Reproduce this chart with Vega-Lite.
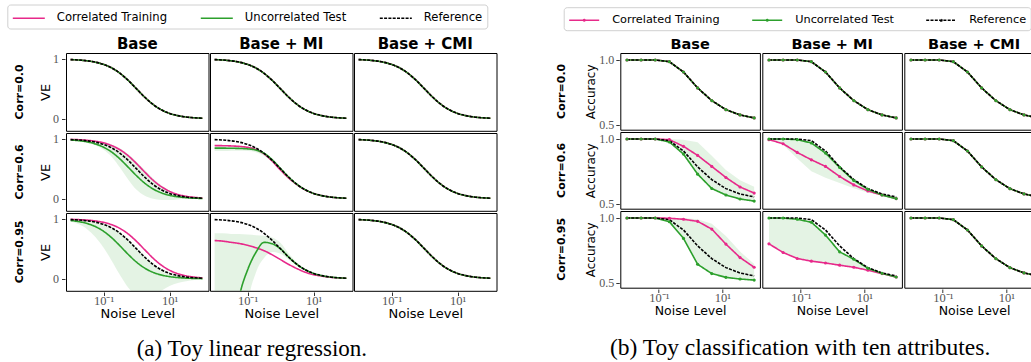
{
"$schema": "https://vega.github.io/schema/vega-lite/v6.json",
"padding": {"left": 6, "top": 4, "right": 0, "bottom": 0},
"spacing": 58.3,
"config": {
  "font": "DejaVu Sans",
  "view": {"stroke": "#000000", "strokeWidth": 1},
  "facet": {"spacing": 0},
  "axis": {"grid": false, "domain": false, "labelFont": "Liberation Serif", "labelFontSize": 12.5, "labelColor": "#555555", "titleFont": "DejaVu Sans", "titleFontSize": 13, "titleFontWeight": "normal", "titleColor": "#000000", "tickColor": "#000000", "tickSize": 3.5, "tickWidth": 0.8, "labelPadding": -1, "titlePadding": 0.5},
  "axisY": {"titlePadding": 0, "labelPadding": 3, "labelFontSize": 12},
  "header": {"labelFont": "DejaVu Sans", "labelFontWeight": "bold", "labelColor": "#000000"},
  "title": {"font": "Liberation Serif", "fontWeight": "normal", "color": "#000000"}
},
"resolve": {"scale": {"color": "independent", "strokeDash": "independent", "strokeWidth": "independent", "x": "independent", "y": "independent"}, "legend": {"color": "independent", "strokeDash": "independent"}},
"hconcat": [
{
  "data": {"values": [
{"c":"Corr=0.0","m":"Base","x":0.01,"tr":0.99,"te":0.99,"rf":0.99},
{"c":"Corr=0.0","m":"Base","x":0.01778,"tr":0.9825,"te":0.9825,"rf":0.9825},
{"c":"Corr=0.0","m":"Base","x":0.03162,"tr":0.9693,"te":0.9693,"rf":0.9693},
{"c":"Corr=0.0","m":"Base","x":0.05623,"tr":0.9468,"te":0.9468,"rf":0.9468},
{"c":"Corr=0.0","m":"Base","x":0.1,"tr":0.9091,"te":0.9091,"rf":0.9091},
{"c":"Corr=0.0","m":"Base","x":0.1778,"tr":0.849,"te":0.849,"rf":0.849},
{"c":"Corr=0.0","m":"Base","x":0.3162,"tr":0.7598,"te":0.7598,"rf":0.7598},
{"c":"Corr=0.0","m":"Base","x":0.5623,"tr":0.64,"te":0.64,"rf":0.64},
{"c":"Corr=0.0","m":"Base","x":1,"tr":0.5,"te":0.5,"rf":0.5},
{"c":"Corr=0.0","m":"Base","x":1.778,"tr":0.36,"te":0.36,"rf":0.36},
{"c":"Corr=0.0","m":"Base","x":3.162,"tr":0.2403,"te":0.2403,"rf":0.2403},
{"c":"Corr=0.0","m":"Base","x":5.623,"tr":0.151,"te":0.151,"rf":0.151},
{"c":"Corr=0.0","m":"Base","x":10,"tr":0.0909,"te":0.0909,"rf":0.0909},
{"c":"Corr=0.0","m":"Base","x":17.78,"tr":0.0532,"te":0.0532,"rf":0.0532},
{"c":"Corr=0.0","m":"Base","x":31.62,"tr":0.0307,"te":0.0307,"rf":0.0307},
{"c":"Corr=0.0","m":"Base","x":56.23,"tr":0.0175,"te":0.0175,"rf":0.0175},
{"c":"Corr=0.0","m":"Base","x":100,"tr":0.0099,"te":0.0099,"rf":0.0099},
{"c":"Corr=0.0","m":"Base + MI","x":0.01,"tr":0.99,"te":0.99,"rf":0.99},
{"c":"Corr=0.0","m":"Base + MI","x":0.01778,"tr":0.9825,"te":0.9825,"rf":0.9825},
{"c":"Corr=0.0","m":"Base + MI","x":0.03162,"tr":0.9693,"te":0.9693,"rf":0.9693},
{"c":"Corr=0.0","m":"Base + MI","x":0.05623,"tr":0.9468,"te":0.9468,"rf":0.9468},
{"c":"Corr=0.0","m":"Base + MI","x":0.1,"tr":0.9091,"te":0.9091,"rf":0.9091},
{"c":"Corr=0.0","m":"Base + MI","x":0.1778,"tr":0.849,"te":0.849,"rf":0.849},
{"c":"Corr=0.0","m":"Base + MI","x":0.3162,"tr":0.7598,"te":0.7598,"rf":0.7598},
{"c":"Corr=0.0","m":"Base + MI","x":0.5623,"tr":0.64,"te":0.64,"rf":0.64},
{"c":"Corr=0.0","m":"Base + MI","x":1,"tr":0.5,"te":0.5,"rf":0.5},
{"c":"Corr=0.0","m":"Base + MI","x":1.778,"tr":0.36,"te":0.36,"rf":0.36},
{"c":"Corr=0.0","m":"Base + MI","x":3.162,"tr":0.2403,"te":0.2403,"rf":0.2403},
{"c":"Corr=0.0","m":"Base + MI","x":5.623,"tr":0.151,"te":0.151,"rf":0.151},
{"c":"Corr=0.0","m":"Base + MI","x":10,"tr":0.0909,"te":0.0909,"rf":0.0909},
{"c":"Corr=0.0","m":"Base + MI","x":17.78,"tr":0.0532,"te":0.0532,"rf":0.0532},
{"c":"Corr=0.0","m":"Base + MI","x":31.62,"tr":0.0307,"te":0.0307,"rf":0.0307},
{"c":"Corr=0.0","m":"Base + MI","x":56.23,"tr":0.0175,"te":0.0175,"rf":0.0175},
{"c":"Corr=0.0","m":"Base + MI","x":100,"tr":0.0099,"te":0.0099,"rf":0.0099},
{"c":"Corr=0.0","m":"Base + CMI","x":0.01,"tr":0.99,"te":0.99,"rf":0.99},
{"c":"Corr=0.0","m":"Base + CMI","x":0.01778,"tr":0.9825,"te":0.9825,"rf":0.9825},
{"c":"Corr=0.0","m":"Base + CMI","x":0.03162,"tr":0.9693,"te":0.9693,"rf":0.9693},
{"c":"Corr=0.0","m":"Base + CMI","x":0.05623,"tr":0.9468,"te":0.9468,"rf":0.9468},
{"c":"Corr=0.0","m":"Base + CMI","x":0.1,"tr":0.9091,"te":0.9091,"rf":0.9091},
{"c":"Corr=0.0","m":"Base + CMI","x":0.1778,"tr":0.849,"te":0.849,"rf":0.849},
{"c":"Corr=0.0","m":"Base + CMI","x":0.3162,"tr":0.7598,"te":0.7598,"rf":0.7598},
{"c":"Corr=0.0","m":"Base + CMI","x":0.5623,"tr":0.64,"te":0.64,"rf":0.64},
{"c":"Corr=0.0","m":"Base + CMI","x":1,"tr":0.5,"te":0.5,"rf":0.5},
{"c":"Corr=0.0","m":"Base + CMI","x":1.778,"tr":0.36,"te":0.36,"rf":0.36},
{"c":"Corr=0.0","m":"Base + CMI","x":3.162,"tr":0.2403,"te":0.2403,"rf":0.2403},
{"c":"Corr=0.0","m":"Base + CMI","x":5.623,"tr":0.151,"te":0.151,"rf":0.151},
{"c":"Corr=0.0","m":"Base + CMI","x":10,"tr":0.0909,"te":0.0909,"rf":0.0909},
{"c":"Corr=0.0","m":"Base + CMI","x":17.78,"tr":0.0532,"te":0.0532,"rf":0.0532},
{"c":"Corr=0.0","m":"Base + CMI","x":31.62,"tr":0.0307,"te":0.0307,"rf":0.0307},
{"c":"Corr=0.0","m":"Base + CMI","x":56.23,"tr":0.0175,"te":0.0175,"rf":0.0175},
{"c":"Corr=0.0","m":"Base + CMI","x":100,"tr":0.0099,"te":0.0099,"rf":0.0099},
{"c":"Corr=0.6","m":"Base","x":0.01,"tr":0.993,"te":0.984,"rf":0.99,"lo":0.98,"hi":0.995},
{"c":"Corr=0.6","m":"Base","x":0.01778,"tr":0.988,"te":0.972,"rf":0.9825,"lo":0.965,"hi":0.99},
{"c":"Corr=0.6","m":"Base","x":0.03162,"tr":0.978,"te":0.952,"rf":0.9693,"lo":0.94,"hi":0.982},
{"c":"Corr=0.6","m":"Base","x":0.05623,"tr":0.962,"te":0.917,"rf":0.9468,"lo":0.895,"hi":0.968},
{"c":"Corr=0.6","m":"Base","x":0.1,"tr":0.935,"te":0.862,"rf":0.9091,"lo":0.82,"hi":0.945},
{"c":"Corr=0.6","m":"Base","x":0.1778,"tr":0.889,"te":0.779,"rf":0.849,"lo":0.7,"hi":0.905},
{"c":"Corr=0.6","m":"Base","x":0.3162,"tr":0.819,"te":0.664,"rf":0.7598,"lo":0.52,"hi":0.84},
{"c":"Corr=0.6","m":"Base","x":0.5623,"tr":0.718,"te":0.526,"rf":0.64,"lo":0.32,"hi":0.745},
{"c":"Corr=0.6","m":"Base","x":1,"tr":0.588,"te":0.385,"rf":0.5,"lo":0.15,"hi":0.62},
{"c":"Corr=0.6","m":"Base","x":1.778,"tr":0.446,"te":0.26,"rf":0.36,"lo":0.05,"hi":0.48},
{"c":"Corr=0.6","m":"Base","x":3.162,"tr":0.311,"te":0.165,"rf":0.2403,"lo":0.0,"hi":0.34},
{"c":"Corr=0.6","m":"Base","x":5.623,"tr":0.203,"te":0.1,"rf":0.151,"lo":-0.02,"hi":0.225},
{"c":"Corr=0.6","m":"Base","x":10,"tr":0.125,"te":0.0588,"rf":0.0909,"lo":-0.02,"hi":0.14},
{"c":"Corr=0.6","m":"Base","x":17.78,"tr":0.074,"te":0.034,"rf":0.0532,"lo":-0.01,"hi":0.082},
{"c":"Corr=0.6","m":"Base","x":31.62,"tr":0.043,"te":0.0194,"rf":0.0307,"lo":0.0,"hi":0.047},
{"c":"Corr=0.6","m":"Base","x":56.23,"tr":0.025,"te":0.011,"rf":0.0175,"lo":0.003,"hi":0.027},
{"c":"Corr=0.6","m":"Base","x":100,"tr":0.014,"te":0.0062,"rf":0.0099,"lo":0.003,"hi":0.015},
{"c":"Corr=0.6","m":"Base + MI","x":0.01,"tr":0.89,"te":0.848,"rf":0.99,"lo":0.8,"hi":0.875},
{"c":"Corr=0.6","m":"Base + MI","x":0.01778,"tr":0.888,"te":0.847,"rf":0.9825,"lo":0.8,"hi":0.875},
{"c":"Corr=0.6","m":"Base + MI","x":0.03162,"tr":0.884,"te":0.845,"rf":0.9693,"lo":0.805,"hi":0.875},
{"c":"Corr=0.6","m":"Base + MI","x":0.05623,"tr":0.876,"te":0.842,"rf":0.9468,"lo":0.805,"hi":0.875},
{"c":"Corr=0.6","m":"Base + MI","x":0.1,"tr":0.86,"te":0.835,"rf":0.9091,"lo":0.8,"hi":0.87},
{"c":"Corr=0.6","m":"Base + MI","x":0.1778,"tr":0.825,"te":0.815,"rf":0.849,"lo":0.78,"hi":0.845},
{"c":"Corr=0.6","m":"Base + MI","x":0.3162,"tr":0.75,"te":0.76,"rf":0.7598,"lo":0.72,"hi":0.78},
{"c":"Corr=0.6","m":"Base + MI","x":0.5623,"tr":0.628,"te":0.65,"rf":0.64,"lo":0.61,"hi":0.67},
{"c":"Corr=0.6","m":"Base + MI","x":1,"tr":0.48,"te":0.505,"rf":0.5,"lo":0.47,"hi":0.525},
{"c":"Corr=0.6","m":"Base + MI","x":1.778,"tr":0.345,"te":0.36,"rf":0.36,"lo":0.34,"hi":0.375},
{"c":"Corr=0.6","m":"Base + MI","x":3.162,"tr":0.235,"te":0.24,"rf":0.2403,"lo":0.232,"hi":0.25},
{"c":"Corr=0.6","m":"Base + MI","x":5.623,"tr":0.148,"te":0.151,"rf":0.151,"lo":0.147,"hi":0.155},
{"c":"Corr=0.6","m":"Base + MI","x":10,"tr":0.09,"te":0.091,"rf":0.0909,"lo":0.09,"hi":0.092},
{"c":"Corr=0.6","m":"Base + MI","x":17.78,"tr":0.053,"te":0.053,"rf":0.0532,"lo":0.053,"hi":0.054},
{"c":"Corr=0.6","m":"Base + MI","x":31.62,"tr":0.0307,"te":0.0307,"rf":0.0307,"lo":0.0307,"hi":0.031},
{"c":"Corr=0.6","m":"Base + MI","x":56.23,"tr":0.0175,"te":0.0175,"rf":0.0175,"lo":0.0175,"hi":0.0175},
{"c":"Corr=0.6","m":"Base + MI","x":100,"tr":0.0099,"te":0.0099,"rf":0.0099,"lo":0.0099,"hi":0.0099},
{"c":"Corr=0.6","m":"Base + CMI","x":0.01,"tr":0.99,"te":0.99,"rf":0.99},
{"c":"Corr=0.6","m":"Base + CMI","x":0.01778,"tr":0.9825,"te":0.9825,"rf":0.9825},
{"c":"Corr=0.6","m":"Base + CMI","x":0.03162,"tr":0.9693,"te":0.9693,"rf":0.9693},
{"c":"Corr=0.6","m":"Base + CMI","x":0.05623,"tr":0.9468,"te":0.9468,"rf":0.9468},
{"c":"Corr=0.6","m":"Base + CMI","x":0.1,"tr":0.9091,"te":0.9091,"rf":0.9091},
{"c":"Corr=0.6","m":"Base + CMI","x":0.1778,"tr":0.849,"te":0.849,"rf":0.849},
{"c":"Corr=0.6","m":"Base + CMI","x":0.3162,"tr":0.7598,"te":0.7598,"rf":0.7598},
{"c":"Corr=0.6","m":"Base + CMI","x":0.5623,"tr":0.64,"te":0.64,"rf":0.64},
{"c":"Corr=0.6","m":"Base + CMI","x":1,"tr":0.5,"te":0.5,"rf":0.5},
{"c":"Corr=0.6","m":"Base + CMI","x":1.778,"tr":0.36,"te":0.36,"rf":0.36},
{"c":"Corr=0.6","m":"Base + CMI","x":3.162,"tr":0.2403,"te":0.2403,"rf":0.2403},
{"c":"Corr=0.6","m":"Base + CMI","x":5.623,"tr":0.151,"te":0.151,"rf":0.151},
{"c":"Corr=0.6","m":"Base + CMI","x":10,"tr":0.0909,"te":0.0909,"rf":0.0909},
{"c":"Corr=0.6","m":"Base + CMI","x":17.78,"tr":0.0532,"te":0.0532,"rf":0.0532},
{"c":"Corr=0.6","m":"Base + CMI","x":31.62,"tr":0.0307,"te":0.0307,"rf":0.0307},
{"c":"Corr=0.6","m":"Base + CMI","x":56.23,"tr":0.0175,"te":0.0175,"rf":0.0175},
{"c":"Corr=0.6","m":"Base + CMI","x":100,"tr":0.0099,"te":0.0099,"rf":0.0099},
{"c":"Corr=0.95","m":"Base","x":0.01,"tr":0.994,"te":0.975,"rf":0.99,"lo":0.96,"hi":0.99},
{"c":"Corr=0.95","m":"Base","x":0.01778,"tr":0.989,"te":0.956,"rf":0.9825,"lo":0.91,"hi":0.985},
{"c":"Corr=0.95","m":"Base","x":0.03162,"tr":0.981,"te":0.924,"rf":0.9693,"lo":0.83,"hi":0.975},
{"c":"Corr=0.95","m":"Base","x":0.05623,"tr":0.967,"te":0.873,"rf":0.9468,"lo":0.7,"hi":0.955},
{"c":"Corr=0.95","m":"Base","x":0.1,"tr":0.943,"te":0.794,"rf":0.9091,"lo":0.52,"hi":0.92},
{"c":"Corr=0.95","m":"Base","x":0.1778,"tr":0.904,"te":0.684,"rf":0.849,"lo":0.3,"hi":0.86},
{"c":"Corr=0.95","m":"Base","x":0.3162,"tr":0.841,"te":0.549,"rf":0.7598,"lo":0.06,"hi":0.77},
{"c":"Corr=0.95","m":"Base","x":0.5623,"tr":0.748,"te":0.406,"rf":0.64,"lo":-0.15,"hi":0.65},
{"c":"Corr=0.95","m":"Base","x":1,"tr":0.625,"te":0.278,"rf":0.5,"lo":-0.3,"hi":0.51},
{"c":"Corr=0.95","m":"Base","x":1.778,"tr":0.484,"te":0.178,"rf":0.36,"lo":-0.35,"hi":0.37},
{"c":"Corr=0.95","m":"Base","x":3.162,"tr":0.345,"te":0.108,"rf":0.2403,"lo":-0.3,"hi":0.25},
{"c":"Corr=0.95","m":"Base","x":5.623,"tr":0.229,"te":0.064,"rf":0.151,"lo":-0.2,"hi":0.16},
{"c":"Corr=0.95","m":"Base","x":10,"tr":0.143,"te":0.037,"rf":0.0909,"lo":-0.12,"hi":0.095},
{"c":"Corr=0.95","m":"Base","x":17.78,"tr":0.086,"te":0.021,"rf":0.0532,"lo":-0.07,"hi":0.055},
{"c":"Corr=0.95","m":"Base","x":31.62,"tr":0.05,"te":0.012,"rf":0.0307,"lo":-0.04,"hi":0.032},
{"c":"Corr=0.95","m":"Base","x":56.23,"tr":0.029,"te":0.0068,"rf":0.0175,"lo":-0.02,"hi":0.018},
{"c":"Corr=0.95","m":"Base","x":100,"tr":0.0164,"te":0.0038,"rf":0.0099,"lo":-0.01,"hi":0.01},
{"c":"Corr=0.95","m":"Base + MI","x":0.01,"tr":0.64,"te":-4,"rf":0.99,"lo":-10,"hi":0.76},
{"c":"Corr=0.95","m":"Base + MI","x":0.01778,"tr":0.63,"te":-2.5,"rf":0.9825,"lo":-8,"hi":0.76},
{"c":"Corr=0.95","m":"Base + MI","x":0.03162,"tr":0.61,"te":-1.2,"rf":0.9693,"lo":-6,"hi":0.75},
{"c":"Corr=0.95","m":"Base + MI","x":0.05623,"tr":0.59,"te":-0.3,"rf":0.9468,"lo":-4,"hi":0.75},
{"c":"Corr=0.95","m":"Base + MI","x":0.1,"tr":0.56,"te":0.15,"rf":0.9091,"lo":-0.5,"hi":0.74},
{"c":"Corr=0.95","m":"Base + MI","x":0.1778,"tr":0.52,"te":0.44,"rf":0.849,"lo":0.1,"hi":0.73},
{"c":"Corr=0.95","m":"Base + MI","x":0.3162,"tr":0.47,"te":0.61,"rf":0.7598,"lo":0.35,"hi":0.72},
{"c":"Corr=0.95","m":"Base + MI","x":0.5623,"tr":0.4,"te":0.585,"rf":0.64,"lo":0.45,"hi":0.69},
{"c":"Corr=0.95","m":"Base + MI","x":1,"tr":0.32,"te":0.5,"rf":0.5,"lo":0.42,"hi":0.6},
{"c":"Corr=0.95","m":"Base + MI","x":1.778,"tr":0.24,"te":0.36,"rf":0.36,"lo":0.32,"hi":0.42},
{"c":"Corr=0.95","m":"Base + MI","x":3.162,"tr":0.17,"te":0.24,"rf":0.2403,"lo":0.22,"hi":0.27},
{"c":"Corr=0.95","m":"Base + MI","x":5.623,"tr":0.11,"te":0.151,"rf":0.151,"lo":0.14,"hi":0.16},
{"c":"Corr=0.95","m":"Base + MI","x":10,"tr":0.07,"te":0.0909,"rf":0.0909,"lo":0.085,"hi":0.095},
{"c":"Corr=0.95","m":"Base + MI","x":17.78,"tr":0.045,"te":0.0532,"rf":0.0532,"lo":0.05,"hi":0.055},
{"c":"Corr=0.95","m":"Base + MI","x":31.62,"tr":0.027,"te":0.0307,"rf":0.0307,"lo":0.03,"hi":0.032},
{"c":"Corr=0.95","m":"Base + MI","x":56.23,"tr":0.016,"te":0.0175,"rf":0.0175,"lo":0.017,"hi":0.018},
{"c":"Corr=0.95","m":"Base + MI","x":100,"tr":0.009,"te":0.0099,"rf":0.0099,"lo":0.009,"hi":0.01},
{"c":"Corr=0.95","m":"Base + CMI","x":0.01,"tr":0.99,"te":0.99,"rf":0.99},
{"c":"Corr=0.95","m":"Base + CMI","x":0.01778,"tr":0.9825,"te":0.9825,"rf":0.9825},
{"c":"Corr=0.95","m":"Base + CMI","x":0.03162,"tr":0.9693,"te":0.9693,"rf":0.9693},
{"c":"Corr=0.95","m":"Base + CMI","x":0.05623,"tr":0.9468,"te":0.9468,"rf":0.9468},
{"c":"Corr=0.95","m":"Base + CMI","x":0.1,"tr":0.9091,"te":0.9091,"rf":0.9091},
{"c":"Corr=0.95","m":"Base + CMI","x":0.1778,"tr":0.849,"te":0.849,"rf":0.849},
{"c":"Corr=0.95","m":"Base + CMI","x":0.3162,"tr":0.7598,"te":0.7598,"rf":0.7598},
{"c":"Corr=0.95","m":"Base + CMI","x":0.5623,"tr":0.64,"te":0.64,"rf":0.64},
{"c":"Corr=0.95","m":"Base + CMI","x":1,"tr":0.5,"te":0.5,"rf":0.5},
{"c":"Corr=0.95","m":"Base + CMI","x":1.778,"tr":0.36,"te":0.36,"rf":0.36},
{"c":"Corr=0.95","m":"Base + CMI","x":3.162,"tr":0.2403,"te":0.2403,"rf":0.2403},
{"c":"Corr=0.95","m":"Base + CMI","x":5.623,"tr":0.151,"te":0.151,"rf":0.151},
{"c":"Corr=0.95","m":"Base + CMI","x":10,"tr":0.0909,"te":0.0909,"rf":0.0909},
{"c":"Corr=0.95","m":"Base + CMI","x":17.78,"tr":0.0532,"te":0.0532,"rf":0.0532},
{"c":"Corr=0.95","m":"Base + CMI","x":31.62,"tr":0.0307,"te":0.0307,"rf":0.0307},
{"c":"Corr=0.95","m":"Base + CMI","x":56.23,"tr":0.0175,"te":0.0175,"rf":0.0175},
{"c":"Corr=0.95","m":"Base + CMI","x":100,"tr":0.0099,"te":0.0099,"rf":0.0099}
  ]},
  "facet": {
    "row": {"field": "c", "type": "nominal", "title": null, "header": {"labelFontSize": 11, "labelPadding": 14.8}},
    "column": {"field": "m", "type": "nominal", "title": null, "sort": ["Base", "Base + MI", "Base + CMI"], "header": {"labelFontSize": 15, "labelPadding": 0}}
  },
  "spacing": 0,
  "title": {"text": "(a) Toy linear regression.", "orient": "bottom", "anchor": "middle", "frame": "bounds", "fontSize": 23, "offset": 17},
  "spec": {
    "width": 142.5,
    "height": 77.8,
    "layer": [
      {
        "mark": {"type": "area", "clip": true, "interpolate": "monotone", "color": "#2ca02c", "opacity": 0.13},
        "encoding": {
          "x": {"field": "x", "type": "quantitative", "scale": {"type": "log", "domain": [0.00724, 151.4], "nice": false}, "axis": {"values": [0.1, 10], "labelExpr": "datum.value < 1 ? '10⁻¹' : '10¹'", "title": "Noise Level"}},
          "y": {"field": "lo", "type": "quantitative", "scale": {"domain": [-0.2, 1.1], "nice": false, "zero": false}, "axis": {"values": [0, 1], "format": "d", "title": "VE"}},
          "y2": {"field": "hi"}
        }
      },
      {
        "transform": [{"fold": ["tr", "te", "rf"], "as": ["s", "v"]}],
        "mark": {"type": "line", "clip": true, "interpolate": "monotone"},
        "encoding": {
          "x": {"field": "x", "type": "quantitative", "scale": {"type": "log", "domain": [0.00724, 151.4], "nice": false}, "axis": {"values": [0.1, 10], "labelExpr": "datum.value < 1 ? '10⁻¹' : '10¹'", "title": "Noise Level"}},
          "y": {"field": "v", "type": "quantitative", "scale": {"domain": [-0.2, 1.1], "nice": false, "zero": false}, "axis": {"values": [0, 1], "format": "d", "title": "VE"}},
          "color": {"field": "s", "type": "nominal", "scale": {"domain": ["tr", "te", "rf"], "range": ["#e7298a", "#2ca02c", "#000000"]},
            "legend": {"title": null, "orient": "none", "legendX": -58.7, "legendY": -48.5, "direction": "horizontal", "labelExpr": "datum.label == 'tr' ? 'Correlated Training' : datum.label == 'te' ? 'Uncorrelated Test' : 'Reference'", "symbolType": "M-1,0H3", "symbolSize": 256, "symbolStrokeWidth": 1.5, "labelFont": "DejaVu Sans", "labelFontSize": 11.6, "labelOffset": 27, "columnPadding": 29, "padding": 4.5, "strokeColor": "#d0d0d0", "cornerRadius": 3, "fillColor": "white"}},
          "strokeDash": {"field": "s", "type": "nominal", "scale": {"domain": ["tr", "te", "rf"], "range": [[1, 0], [1, 0], [3, 1.3]]},
            "legend": {"title": null, "orient": "none", "legendX": -58.7, "legendY": -48.5, "direction": "horizontal", "labelExpr": "datum.label == 'tr' ? 'Correlated Training' : datum.label == 'te' ? 'Uncorrelated Test' : 'Reference'", "symbolType": "M-1,0H3", "symbolSize": 256, "symbolStrokeWidth": 1.5, "labelFont": "DejaVu Sans", "labelFontSize": 11.6, "labelOffset": 27, "columnPadding": 29, "padding": 4.5, "strokeColor": "#d0d0d0", "cornerRadius": 3, "fillColor": "white"}},
          "strokeWidth": {"field": "s", "type": "nominal", "scale": {"domain": ["tr", "te", "rf"], "range": [1.6, 1.6, 1]}, "legend": null}
        }
      }
    ]
  }
},
{
  "data": {"values": [
{"c":"Corr=0.0","m":"Base","x":0.01,"tr":1,"te":1,"rf":1},
{"c":"Corr=0.0","m":"Base","x":0.02783,"tr":1,"te":1,"rf":1},
{"c":"Corr=0.0","m":"Base","x":0.07743,"tr":1,"te":1,"rf":1},
{"c":"Corr=0.0","m":"Base","x":0.2154,"tr":0.987,"te":0.987,"rf":0.987},
{"c":"Corr=0.0","m":"Base","x":0.5995,"tr":0.907,"te":0.907,"rf":0.907},
{"c":"Corr=0.0","m":"Base","x":1.668,"tr":0.784,"te":0.784,"rf":0.784},
{"c":"Corr=0.0","m":"Base","x":4.642,"tr":0.686,"te":0.686,"rf":0.686},
{"c":"Corr=0.0","m":"Base","x":12.92,"tr":0.616,"te":0.616,"rf":0.616},
{"c":"Corr=0.0","m":"Base","x":35.94,"tr":0.575,"te":0.575,"rf":0.575},
{"c":"Corr=0.0","m":"Base","x":100,"tr":0.552,"te":0.552,"rf":0.552},
{"c":"Corr=0.0","m":"Base + MI","x":0.01,"tr":1,"te":1,"rf":1},
{"c":"Corr=0.0","m":"Base + MI","x":0.02783,"tr":1,"te":1,"rf":1},
{"c":"Corr=0.0","m":"Base + MI","x":0.07743,"tr":1,"te":1,"rf":1},
{"c":"Corr=0.0","m":"Base + MI","x":0.2154,"tr":0.987,"te":0.987,"rf":0.987},
{"c":"Corr=0.0","m":"Base + MI","x":0.5995,"tr":0.907,"te":0.907,"rf":0.907},
{"c":"Corr=0.0","m":"Base + MI","x":1.668,"tr":0.784,"te":0.784,"rf":0.784},
{"c":"Corr=0.0","m":"Base + MI","x":4.642,"tr":0.686,"te":0.686,"rf":0.686},
{"c":"Corr=0.0","m":"Base + MI","x":12.92,"tr":0.616,"te":0.616,"rf":0.616},
{"c":"Corr=0.0","m":"Base + MI","x":35.94,"tr":0.575,"te":0.575,"rf":0.575},
{"c":"Corr=0.0","m":"Base + MI","x":100,"tr":0.552,"te":0.552,"rf":0.552},
{"c":"Corr=0.0","m":"Base + CMI","x":0.01,"tr":1,"te":1,"rf":1},
{"c":"Corr=0.0","m":"Base + CMI","x":0.02783,"tr":1,"te":1,"rf":1},
{"c":"Corr=0.0","m":"Base + CMI","x":0.07743,"tr":1,"te":1,"rf":1},
{"c":"Corr=0.0","m":"Base + CMI","x":0.2154,"tr":0.987,"te":0.987,"rf":0.987},
{"c":"Corr=0.0","m":"Base + CMI","x":0.5995,"tr":0.907,"te":0.907,"rf":0.907},
{"c":"Corr=0.0","m":"Base + CMI","x":1.668,"tr":0.784,"te":0.784,"rf":0.784},
{"c":"Corr=0.0","m":"Base + CMI","x":4.642,"tr":0.686,"te":0.686,"rf":0.686},
{"c":"Corr=0.0","m":"Base + CMI","x":12.92,"tr":0.616,"te":0.616,"rf":0.616},
{"c":"Corr=0.0","m":"Base + CMI","x":35.94,"tr":0.575,"te":0.575,"rf":0.575},
{"c":"Corr=0.0","m":"Base + CMI","x":100,"tr":0.552,"te":0.552,"rf":0.552},
{"c":"Corr=0.6","m":"Base","x":0.01,"tr":1,"te":1,"rf":1,"lo":1,"hi":1},
{"c":"Corr=0.6","m":"Base","x":0.02783,"tr":1,"te":1,"rf":1,"lo":1,"hi":1},
{"c":"Corr=0.6","m":"Base","x":0.07743,"tr":1,"te":1,"rf":1,"lo":1,"hi":1},
{"c":"Corr=0.6","m":"Base","x":0.2154,"tr":0.995,"te":0.977,"rf":0.987,"lo":0.975,"hi":1},
{"c":"Corr=0.6","m":"Base","x":0.5995,"tr":0.943,"te":0.883,"rf":0.907,"lo":0.88,"hi":0.995},
{"c":"Corr=0.6","m":"Base","x":1.668,"tr":0.873,"te":0.728,"rf":0.784,"lo":0.725,"hi":0.975},
{"c":"Corr=0.6","m":"Base","x":4.642,"tr":0.788,"te":0.617,"rf":0.686,"lo":0.614,"hi":0.87},
{"c":"Corr=0.6","m":"Base","x":12.92,"tr":0.702,"te":0.567,"rf":0.616,"lo":0.564,"hi":0.76},
{"c":"Corr=0.6","m":"Base","x":35.94,"tr":0.629,"te":0.536,"rf":0.575,"lo":0.533,"hi":0.68},
{"c":"Corr=0.6","m":"Base","x":100,"tr":0.582,"te":0.52,"rf":0.552,"lo":0.517,"hi":0.63},
{"c":"Corr=0.6","m":"Base + MI","x":0.01,"tr":0.995,"te":1,"rf":1,"lo":1,"hi":1},
{"c":"Corr=0.6","m":"Base + MI","x":0.02783,"tr":0.963,"te":1,"rf":1,"lo":0.955,"hi":1},
{"c":"Corr=0.6","m":"Base + MI","x":0.07743,"tr":0.896,"te":0.995,"rf":1,"lo":0.85,"hi":0.995},
{"c":"Corr=0.6","m":"Base + MI","x":0.2154,"tr":0.839,"te":0.969,"rf":0.987,"lo":0.75,"hi":0.969},
{"c":"Corr=0.6","m":"Base + MI","x":0.5995,"tr":0.788,"te":0.891,"rf":0.907,"lo":0.7,"hi":0.891},
{"c":"Corr=0.6","m":"Base + MI","x":1.668,"tr":0.71,"te":0.78,"rf":0.784,"lo":0.66,"hi":0.78},
{"c":"Corr=0.6","m":"Base + MI","x":4.642,"tr":0.645,"te":0.679,"rf":0.686,"lo":0.62,"hi":0.679},
{"c":"Corr=0.6","m":"Base + MI","x":12.92,"tr":0.598,"te":0.611,"rf":0.616,"lo":0.585,"hi":0.611},
{"c":"Corr=0.6","m":"Base + MI","x":35.94,"tr":0.567,"te":0.567,"rf":0.575,"lo":0.565,"hi":0.567},
{"c":"Corr=0.6","m":"Base + MI","x":100,"tr":0.539,"te":0.539,"rf":0.552,"lo":0.539,"hi":0.539},
{"c":"Corr=0.6","m":"Base + CMI","x":0.01,"tr":1,"te":1,"rf":1},
{"c":"Corr=0.6","m":"Base + CMI","x":0.02783,"tr":1,"te":1,"rf":1},
{"c":"Corr=0.6","m":"Base + CMI","x":0.07743,"tr":1,"te":1,"rf":1},
{"c":"Corr=0.6","m":"Base + CMI","x":0.2154,"tr":0.987,"te":0.987,"rf":0.987},
{"c":"Corr=0.6","m":"Base + CMI","x":0.5995,"tr":0.907,"te":0.907,"rf":0.907},
{"c":"Corr=0.6","m":"Base + CMI","x":1.668,"tr":0.784,"te":0.784,"rf":0.784},
{"c":"Corr=0.6","m":"Base + CMI","x":4.642,"tr":0.686,"te":0.686,"rf":0.686},
{"c":"Corr=0.6","m":"Base + CMI","x":12.92,"tr":0.616,"te":0.616,"rf":0.616},
{"c":"Corr=0.6","m":"Base + CMI","x":35.94,"tr":0.575,"te":0.575,"rf":0.575},
{"c":"Corr=0.6","m":"Base + CMI","x":100,"tr":0.552,"te":0.552,"rf":0.552},
{"c":"Corr=0.95","m":"Base","x":0.01,"tr":1,"te":1,"rf":1,"lo":1,"hi":1},
{"c":"Corr=0.95","m":"Base","x":0.02783,"tr":1,"te":1,"rf":1,"lo":1,"hi":1},
{"c":"Corr=0.95","m":"Base","x":0.07743,"tr":1,"te":1,"rf":1,"lo":1,"hi":1},
{"c":"Corr=0.95","m":"Base","x":0.2154,"tr":0.998,"te":0.971,"rf":0.987,"lo":0.971,"hi":1},
{"c":"Corr=0.95","m":"Base","x":0.5995,"tr":0.99,"te":0.842,"rf":0.907,"lo":0.842,"hi":1},
{"c":"Corr=0.95","m":"Base","x":1.668,"tr":0.974,"te":0.642,"rf":0.784,"lo":0.642,"hi":0.99},
{"c":"Corr=0.95","m":"Base","x":4.642,"tr":0.914,"te":0.57,"rf":0.686,"lo":0.57,"hi":0.955},
{"c":"Corr=0.95","m":"Base","x":12.92,"tr":0.798,"te":0.541,"rf":0.616,"lo":0.541,"hi":0.86},
{"c":"Corr=0.95","m":"Base","x":35.94,"tr":0.694,"te":0.528,"rf":0.575,"lo":0.528,"hi":0.74},
{"c":"Corr=0.95","m":"Base","x":100,"tr":0.619,"te":0.52,"rf":0.552,"lo":0.52,"hi":0.645},
{"c":"Corr=0.95","m":"Base + MI","x":0.01,"tr":0.8,"te":1,"rf":1,"lo":0.8,"hi":1},
{"c":"Corr=0.95","m":"Base + MI","x":0.02783,"tr":0.733,"te":1,"rf":1,"lo":0.733,"hi":1},
{"c":"Corr=0.95","m":"Base + MI","x":0.07743,"tr":0.687,"te":0.99,"rf":1,"lo":0.687,"hi":0.99},
{"c":"Corr=0.95","m":"Base + MI","x":0.2154,"tr":0.666,"te":0.967,"rf":0.987,"lo":0.666,"hi":0.967},
{"c":"Corr=0.95","m":"Base + MI","x":0.5995,"tr":0.652,"te":0.868,"rf":0.907,"lo":0.652,"hi":0.868},
{"c":"Corr=0.95","m":"Base + MI","x":1.668,"tr":0.635,"te":0.738,"rf":0.784,"lo":0.635,"hi":0.738},
{"c":"Corr=0.95","m":"Base + MI","x":4.642,"tr":0.619,"te":0.681,"rf":0.686,"lo":0.619,"hi":0.681},
{"c":"Corr=0.95","m":"Base + MI","x":12.92,"tr":0.596,"te":0.611,"rf":0.616,"lo":0.596,"hi":0.611},
{"c":"Corr=0.95","m":"Base + MI","x":35.94,"tr":0.57,"te":0.572,"rf":0.575,"lo":0.57,"hi":0.572},
{"c":"Corr=0.95","m":"Base + MI","x":100,"tr":0.544,"te":0.544,"rf":0.552,"lo":0.544,"hi":0.544},
{"c":"Corr=0.95","m":"Base + CMI","x":0.01,"tr":1,"te":1,"rf":1},
{"c":"Corr=0.95","m":"Base + CMI","x":0.02783,"tr":1,"te":1,"rf":1},
{"c":"Corr=0.95","m":"Base + CMI","x":0.07743,"tr":1,"te":1,"rf":1},
{"c":"Corr=0.95","m":"Base + CMI","x":0.2154,"tr":0.987,"te":0.987,"rf":0.987},
{"c":"Corr=0.95","m":"Base + CMI","x":0.5995,"tr":0.907,"te":0.907,"rf":0.907},
{"c":"Corr=0.95","m":"Base + CMI","x":1.668,"tr":0.784,"te":0.784,"rf":0.784},
{"c":"Corr=0.95","m":"Base + CMI","x":4.642,"tr":0.686,"te":0.686,"rf":0.686},
{"c":"Corr=0.95","m":"Base + CMI","x":12.92,"tr":0.616,"te":0.616,"rf":0.616},
{"c":"Corr=0.95","m":"Base + CMI","x":35.94,"tr":0.575,"te":0.575,"rf":0.575},
{"c":"Corr=0.95","m":"Base + CMI","x":100,"tr":0.552,"te":0.552,"rf":0.552}
  ]},
  "facet": {
    "row": {"field": "c", "type": "nominal", "title": null, "header": {"labelFontSize": 11, "labelPadding": 17.5}},
    "column": {"field": "m", "type": "nominal", "title": null, "sort": ["Base", "Base + MI", "Base + CMI"], "header": {"labelFontSize": 14.5, "labelPadding": 0}}
  },
  "spacing": 0,
  "title": {"text": "(b) Toy classification with ten attributes.", "orient": "bottom", "anchor": "middle", "frame": "bounds", "fontSize": 23.5, "offset": 19},
  "spec": {
    "width": 139.6,
    "height": 76.7,
    "layer": [
      {
        "mark": {"type": "area", "clip": true, "color": "#2ca02c", "opacity": 0.13},
        "encoding": {
          "x": {"field": "x", "type": "quantitative", "scale": {"type": "log", "domain": [0.00617, 151.4], "nice": false}, "axis": {"values": [0.1, 10], "labelExpr": "datum.value < 1 ? '10⁻¹' : '10¹'", "title": "Noise Level", "titleFontSize": 12.5}},
          "y": {"field": "lo", "type": "quantitative", "scale": {"domain": [0.461, 1.054], "nice": false, "zero": false}, "axis": {"values": [0.5, 1], "format": ".1f", "title": "Accuracy", "titleFontSize": 12, "labelPadding": 2, "titlePadding": 1.5}},
          "y2": {"field": "hi"}
        }
      },
      {
        "transform": [{"fold": ["tr", "te", "rf"], "as": ["s", "v"]}],
        "mark": {"type": "line", "clip": true},
        "encoding": {
          "x": {"field": "x", "type": "quantitative", "scale": {"type": "log", "domain": [0.00617, 151.4], "nice": false}, "axis": {"values": [0.1, 10], "labelExpr": "datum.value < 1 ? '10⁻¹' : '10¹'", "title": "Noise Level", "titleFontSize": 12.5}},
          "y": {"field": "v", "type": "quantitative", "scale": {"domain": [0.461, 1.054], "nice": false, "zero": false}, "axis": {"values": [0.5, 1], "format": ".1f", "title": "Accuracy", "titleFontSize": 12, "labelPadding": 2, "titlePadding": 1.5}},
          "color": {"field": "s", "type": "nominal", "scale": {"domain": ["tr", "te", "rf"], "range": ["#e7298a", "#2ca02c", "#000000"]},
            "legend": {"title": null, "orient": "none", "legendX": -56.6, "legendY": -45.8, "direction": "horizontal", "labelExpr": "datum.label == 'tr' ? 'Correlated Training' : datum.label == 'te' ? 'Uncorrelated Test' : 'Reference'", "symbolType": "M-1,0H3M0.9,0A0.1,0.1,0,1,0,1.1,0A0.1,0.1,0,1,0,0.9,0", "symbolSize": 225, "symbolStrokeWidth": 1.5, "labelFont": "DejaVu Sans", "labelFontSize": 11.3, "labelOffset": 27, "columnPadding": 28, "padding": 4.5, "strokeColor": "#d0d0d0", "cornerRadius": 3, "fillColor": "white"}},
          "strokeDash": {"field": "s", "type": "nominal", "scale": {"domain": ["tr", "te", "rf"], "range": [[1, 0], [1, 0], [3, 1.3]]},
            "legend": {"title": null, "orient": "none", "legendX": -56.6, "legendY": -45.8, "direction": "horizontal", "labelExpr": "datum.label == 'tr' ? 'Correlated Training' : datum.label == 'te' ? 'Uncorrelated Test' : 'Reference'", "symbolType": "M-1,0H3M0.9,0A0.1,0.1,0,1,0,1.1,0A0.1,0.1,0,1,0,0.9,0", "symbolSize": 225, "symbolStrokeWidth": 1.5, "labelFont": "DejaVu Sans", "labelFontSize": 11.3, "labelOffset": 27, "columnPadding": 28, "padding": 4.5, "strokeColor": "#d0d0d0", "cornerRadius": 3, "fillColor": "white"}},
          "strokeWidth": {"field": "s", "type": "nominal", "scale": {"domain": ["tr", "te", "rf"], "range": [1.6, 1.6, 1]}, "legend": null}
        }
      },
      {
        "transform": [{"fold": ["tr", "te"], "as": ["s", "v"]}],
        "mark": {"type": "circle", "clip": true, "size": 10, "opacity": 1},
        "encoding": {
          "x": {"field": "x", "type": "quantitative", "scale": {"type": "log", "domain": [0.00617, 151.4], "nice": false}},
          "y": {"field": "v", "type": "quantitative", "scale": {"domain": [0.461, 1.054], "nice": false, "zero": false}},
          "color": {"field": "s", "type": "nominal", "scale": {"domain": ["tr", "te", "rf"], "range": ["#e7298a", "#2ca02c", "#000000"]}, "legend": null}
        }
      }
    ]
  }
}
]
}
